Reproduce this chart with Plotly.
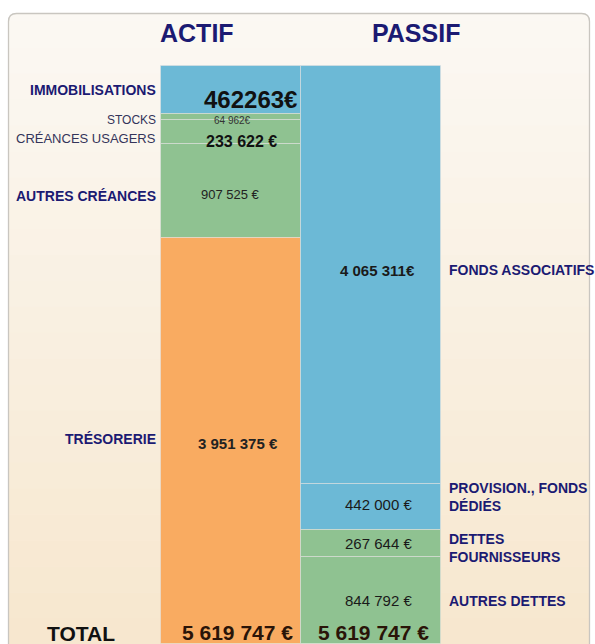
import plotly.graph_objects as go

# ---------------- data ----------------
columns = ["ACTIF", "PASSIF"]

actif_labels = ["IMMOBILISATIONS", "STOCKS", "CRÉANCES USAGERS", "AUTRES CRÉANCES", "TRÉSORERIE"]
actif_values = [462263, 64962, 233622, 907525, 3951375]
actif_text = ["462263€", "64 962€", "233 622 €", "907 525 €", "3 951 375 €"]

passif_labels = ["FONDS ASSOCIATIFS", "PROVISION., FONDS<br>DÉDIÉS", "DETTES<br>FOURNISSEURS", "AUTRES DETTES"]
passif_values = [4065311, 442000, 267644, 844792]
passif_text = ["4 065 311€", "442 000 €", "267 644 €", "844 792 €"]

total_label = "TOTAL"
total_text = "5 619 747 €"

# ---------------- style ----------------
W, H = 595, 644
BLUE, GREEN, ORANGE = "#6cb9d6", "#8fc291", "#f9ab61"
NAVY = "#1b1a72"
FONT = "Liberation Sans, Arial, sans-serif"

actif_colors = [BLUE, GREEN, GREEN, GREEN, ORANGE]
passif_colors = [BLUE, BLUE, GREEN, GREEN]

# left label styles: (size, bold, color, yshift)
actif_lab_style = [(14, True, NAVY, 0), (12, False, "#34345a", -3), (13, False, "#34345a", -6),
                   (14, True, NAVY, -5), (14, True, NAVY, 2)]
# value styles: (size, bold, color, xshift, yshift)
actif_val_style = [(24, True, "#111111", 19, -10), (10, False, "#333333", 1, -4),
                   (16, True, "#111111", 10, -9), (13, False, "#222222", -1, -4), (15, True, "#222222", 7, -3)]
passif_val_style = [(15, True, "#1a1a1a", 6, 5), (15, False, "#1a1a1a", 7, 2),
                    (15, False, "#1a1a1a", 7, 0), (15, False, "#1a1a1a", 7, 0)]
passif_lab_shift = [5, 10, -5, 0]

fig = go.Figure()

def add_column(xpos, values, colors, names):
    base = 0
    mids = []
    for v, c, n in zip(values, colors, names):
        fig.add_trace(go.Bar(
            x=[xpos], y=[v], base=[base], width=1.0, name=n.replace("<br>", " "),
            marker=dict(color=c, line=dict(color="rgba(225,225,225,0.55)", width=1)),
            hoverinfo="name+y", showlegend=False))
        mids.append(base + v / 2)
        base += v
    return mids, base

a_mid, a_total = add_column(0, actif_values, actif_colors, actif_labels)
p_mid, p_total = add_column(1, passif_values, passif_colors, passif_labels)

ann = []
def bold(t, b):
    return f"<b>{t}</b>" if b else t

# actif left labels + values
for lab, mid, st, txt, vs in zip(actif_labels, a_mid, actif_lab_style, actif_text, actif_val_style):
    size, b, col, ly = st
    ann.append(dict(x=-0.52, y=mid, xref="x", yref="y", text=bold(lab, b), showarrow=False,
                    xanchor="right", yanchor="middle", yshift=ly,
                    font=dict(family=FONT, size=size, color=col)))
    vsize, vb, vcol, dx, dy = vs
    ann.append(dict(x=0, y=mid, xref="x", yref="y", text=bold(txt, vb), showarrow=False,
                    xanchor="center", yanchor="middle", xshift=dx, yshift=dy,
                    font=dict(family=FONT, size=vsize, color=vcol)))

# passif values + right labels
for lab, mid, txt, vs, ls in zip(passif_labels, p_mid, passif_text, passif_val_style, passif_lab_shift):
    vsize, vb, vcol, dx, dy = vs
    ann.append(dict(x=1, y=mid, xref="x", yref="y", text=bold(txt, vb), showarrow=False,
                    xanchor="center", yanchor="middle", xshift=dx, yshift=dy,
                    font=dict(family=FONT, size=vsize, color=vcol)))
    ann.append(dict(x=1.54, y=mid, xref="x", yref="y", text=bold(lab, True), showarrow=False,
                    xanchor="left", yanchor="middle", align="left", yshift=ls,
                    font=dict(family=FONT, size=14, color=NAVY)))

# totals
ann.append(dict(x=-1.07, y=a_total, xref="x", yref="y", text=bold(total_label, True), showarrow=False,
                xanchor="center", yanchor="middle", yshift=11, font=dict(family=FONT, size=21, color="#111111")))
for xp, tot, dx in ((0, a_total, 6), (1, p_total, 2)):
    ann.append(dict(x=xp, y=tot, xref="x", yref="y", text=bold(total_text, True), showarrow=False,
                    xanchor="center", yanchor="middle", yshift=12, xshift=dx,
                    font=dict(family=FONT, size=21, color="#2a1408")))

# column headers
for xp, name, dx in ((0, columns[0], -34), (1, columns[1], 45)):
    ann.append(dict(x=xp, y=1 - 33 / H, xref="x", yref="paper", text=bold(name, True), showarrow=False,
                    xanchor="center", yanchor="middle", xshift=dx,
                    font=dict(family=FONT, size=25, color=NAVY)))

# ---------------- background panel (gradient, rounded top) ----------------
def px(x):
    return x / W
def py(y):
    return 1 - y / H

shapes = []
L, R, T, r = 8.5, 589.5, 13.5, 8
top_col = (251, 248, 243)
bot_col = (247, 231, 206)
path = (f"M {px(L)},{py(H + 2)} L {px(L)},{py(T + r)} Q {px(L)},{py(T)} {px(L + r)},{py(T)} "
        f"L {px(R - r)},{py(T)} Q {px(R)},{py(T)} {px(R)},{py(T + r)} L {px(R)},{py(H + 2)} Z")
shapes.append(dict(type="path", path=path, xref="paper", yref="paper", layer="below",
                   fillcolor="rgb(%d,%d,%d)" % top_col, line=dict(width=0)))
n = 24
y0 = T + r
for i in range(n):
    ya = y0 + (H - y0) * i / n
    yb = y0 + (H - y0) * (i + 1) / n + 0.5
    t = (i + 0.5) / n
    c = tuple(round(top_col[k] + (bot_col[k] - top_col[k]) * t) for k in range(3))
    shapes.append(dict(type="rect", xref="paper", yref="paper", layer="below",
                       x0=px(L), x1=px(R), y0=py(yb), y1=py(ya),
                       fillcolor="rgb(%d,%d,%d)" % c, line=dict(width=0)))
shapes.append(dict(type="path", path=path, xref="paper", yref="paper", layer="below",
                   fillcolor="rgba(0,0,0,0)", line=dict(color="#c9c6c0", width=1.3)))

# axis ranges: actif bar spans pixels 161-441 horizontally, 66-644 vertically
x_lo, x_hi = -1.65, 2.6
y_top = -a_total * 66 / (H - 66)

fig.update_layout(
    width=W, height=H,
    margin=dict(l=0, r=0, t=0, b=0),
    paper_bgcolor="white", plot_bgcolor="rgba(0,0,0,0)",
    barmode="overlay", bargap=0,
    xaxis=dict(range=[x_lo, x_hi], visible=False, fixedrange=True),
    yaxis=dict(range=[a_total, y_top], visible=False, fixedrange=True),
    annotations=ann, shapes=shapes, showlegend=False,
)

fig.write_html("out.html", config={"displayModeBar": False},
               post_script="document.body.style.margin='0';document.body.style.overflow='hidden';")
